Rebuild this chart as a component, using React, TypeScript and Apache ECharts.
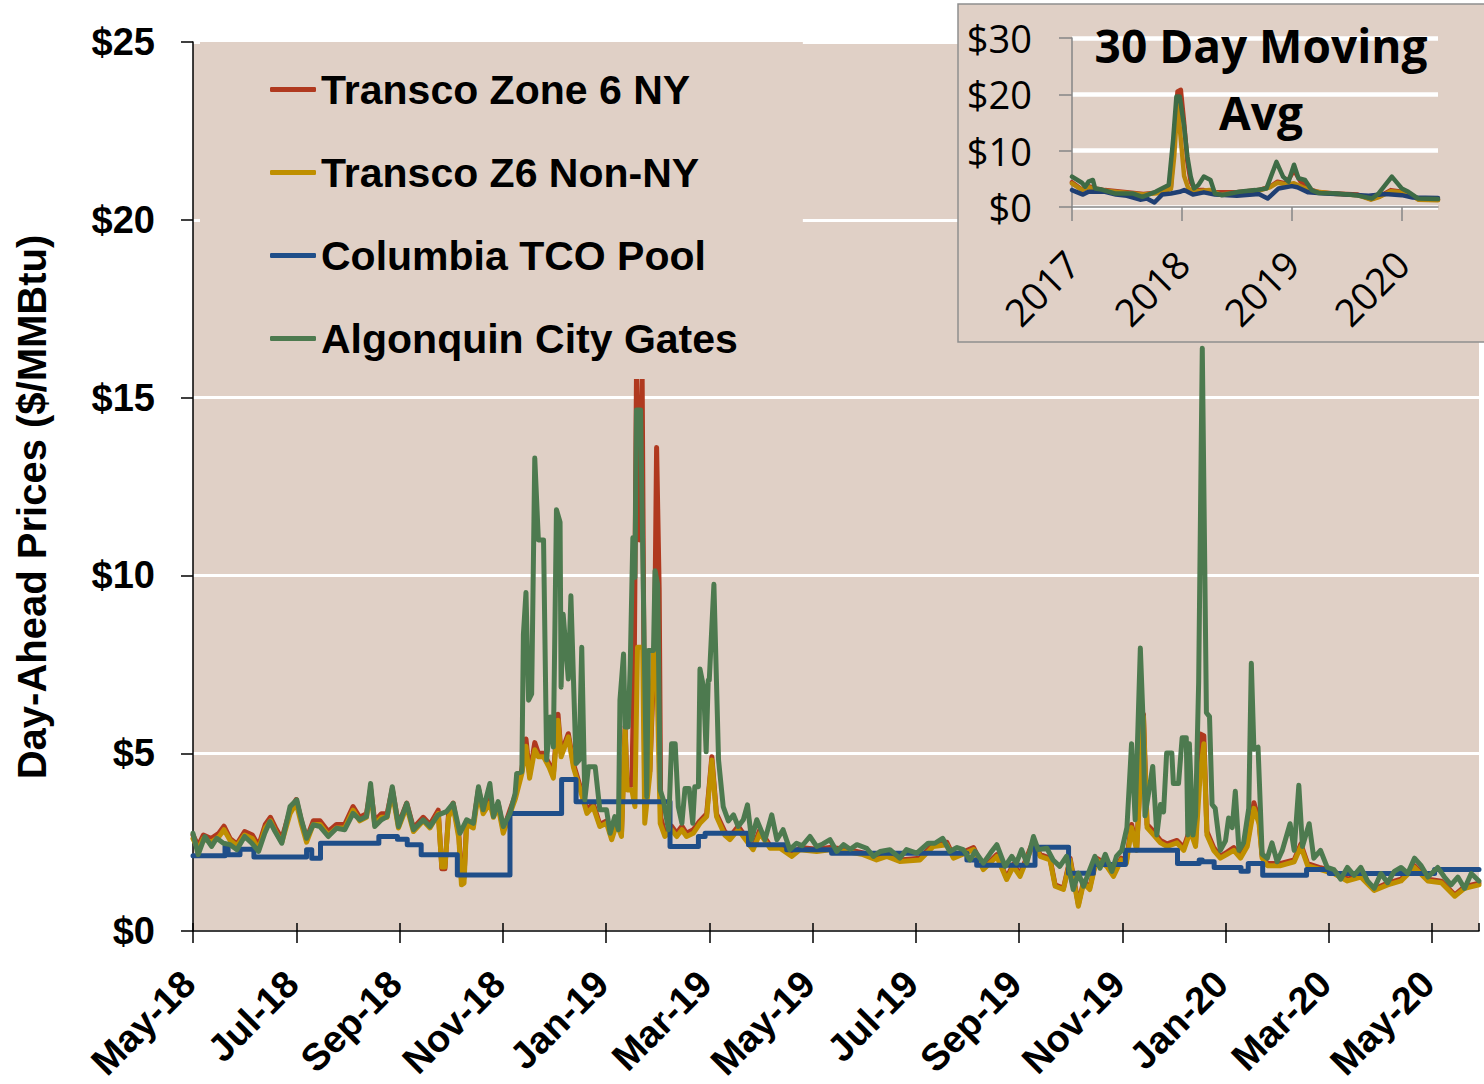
import React, { useEffect, useRef } from 'react';
import * as echarts from 'echarts';

// ---------- DATA ----------
// Main chart x = months since 1 May 2018
const X_TICK_LABELS = ['May-18', 'Jul-18', 'Sep-18', 'Nov-18', 'Jan-19', 'Mar-19', 'May-19', 'Jul-19', 'Sep-19', 'Nov-19', 'Jan-20', 'Mar-20', 'May-20'];
const Y_TICKS = [0, 5, 10, 15, 20, 25];
const SERIES_NAMES = ['Transco Zone 6 NY', 'Transco Z6 Non-NY', 'Columbia TCO Pool', 'Algonquin City Gates'];
const COLORS = ['#B0391F', '#BF8F00', '#1F4E89', '#4D7A4F'];

const transcoNonNY: [number, number][] = [
  [0, 2.6], [0.1, 2.3], [0.2, 2.6], [0.35, 2.5], [0.5, 2.65], [0.6, 2.85], [0.72, 2.55], [0.85, 2.4], [1.0, 2.7], [1.15, 2.6],
  [1.27, 2.3], [1.4, 2.9], [1.5, 3.1], [1.6, 2.8], [1.72, 2.5], [1.88, 3.3], [2.0, 3.6], [2.1, 3.0], [2.2, 2.5], [2.33, 3.0],
  [2.46, 3.0], [2.62, 2.7], [2.78, 2.9], [2.94, 2.9], [3.1, 3.4], [3.23, 3.1], [3.36, 3.2], [3.44, 3.9], [3.52, 3.0], [3.65, 3.2],
  [3.76, 3.2], [3.86, 3.9], [3.98, 2.9], [4.14, 3.5], [4.27, 2.8], [4.46, 3.1], [4.59, 2.9], [4.75, 3.3], [4.82, 1.8], [4.88, 1.8],
  [4.95, 3.2], [5.04, 3.5], [5.15, 2.6], [5.2, 1.3], [5.25, 1.35], [5.3, 3.0], [5.43, 2.9], [5.53, 3.9], [5.62, 3.3], [5.75, 3.6],
  [5.82, 3.2], [5.91, 3.5], [6.01, 2.75], [6.14, 3.3], [6.24, 3.7], [6.37, 4.43], [6.45, 5.2], [6.52, 4.3], [6.62, 5.1], [6.69, 4.9],
  [6.79, 4.9], [6.9, 4.6], [6.98, 4.3], [7.07, 5.93], [7.13, 4.9], [7.27, 5.46], [7.37, 4.6], [7.5, 3.97], [7.63, 3.31], [7.75, 3.5],
  [7.88, 2.94], [8.01, 3.03], [8.11, 2.57], [8.21, 3.03], [8.3, 2.66], [8.37, 5.65], [8.41, 3.97], [8.5, 3.97], [8.56, 3.5], [8.61, 7.98],
  [8.71, 7.98], [8.75, 3.03], [8.85, 4.43], [8.92, 7.89], [8.98, 7.7], [9.05, 3.03], [9.14, 2.66], [9.27, 2.85], [9.37, 2.66], [9.47, 2.85],
  [9.56, 2.66], [9.69, 2.75], [9.82, 3.03], [9.95, 3.22], [10.05, 4.81], [10.14, 3.22], [10.3, 2.7], [10.4, 2.57], [10.56, 2.85], [10.85, 2.29],
  [10.98, 2.75], [11.18, 2.33], [11.37, 2.33], [11.6, 2.1], [11.76, 2.29], [12.08, 2.24], [12.34, 2.29], [12.66, 2.24], [12.98, 2.15], [13.24, 2.0],
  [13.44, 2.1], [13.69, 1.96], [14.08, 2.0], [14.34, 2.38], [14.6, 2.43], [14.73, 2.05], [15.12, 2.29], [15.31, 1.73], [15.57, 2.1], [15.76, 1.45],
  [15.89, 1.82], [16.02, 1.54], [16.28, 2.47], [16.41, 2.1], [16.6, 2.0], [16.7, 1.26], [16.86, 1.17], [16.99, 2.0], [17.15, 0.7], [17.25, 1.35],
  [17.37, 1.17], [17.5, 2.0], [17.7, 1.82], [17.83, 1.54], [17.98, 2.0], [18.08, 1.91], [18.18, 2.91], [18.28, 2.27], [18.41, 6.03], [18.48, 2.91],
  [18.61, 2.7], [18.74, 2.48], [18.87, 2.38], [19.06, 2.48], [19.19, 2.27], [19.32, 2.81], [19.42, 2.38], [19.51, 4.42], [19.58, 5.27], [19.64, 2.7],
  [19.77, 2.27], [19.9, 2.05], [20.03, 2.16], [20.16, 2.27], [20.29, 2.05], [20.42, 2.38], [20.55, 3.45], [20.65, 3.02], [20.71, 2.05], [20.81, 1.84],
  [21.07, 1.84], [21.33, 1.95], [21.46, 2.38], [21.59, 1.84], [21.84, 1.73], [22.1, 1.62], [22.36, 1.41], [22.62, 1.52], [22.88, 1.14], [23.14, 1.3],
  [23.4, 1.41], [23.66, 1.79], [23.92, 1.41], [24.18, 1.36], [24.44, 0.98], [24.63, 1.2], [24.91, 1.3],
];

const transcoNY: [number, number][] = [
  [0, 2.7], [0.1, 2.4], [0.2, 2.7], [0.35, 2.6], [0.5, 2.75], [0.6, 2.95], [0.72, 2.6], [0.85, 2.45], [1.0, 2.8], [1.15, 2.7],
  [1.27, 2.4], [1.4, 3.0], [1.5, 3.2], [1.6, 2.9], [1.72, 2.6], [1.88, 3.4], [2.0, 3.7], [2.1, 3.1], [2.2, 2.6], [2.33, 3.1],
  [2.46, 3.1], [2.62, 2.8], [2.78, 3.0], [2.94, 3.0], [3.1, 3.5], [3.23, 3.2], [3.36, 3.3], [3.44, 4.0], [3.52, 3.1], [3.65, 3.3],
  [3.76, 3.3], [3.86, 4.0], [3.98, 3.0], [4.14, 3.6], [4.27, 2.9], [4.46, 3.2], [4.59, 3.0], [4.75, 3.4], [4.82, 1.75], [4.88, 1.75],
  [4.95, 3.3], [5.04, 3.6], [5.15, 2.7], [5.2, 1.45], [5.25, 1.5], [5.3, 3.1], [5.43, 3.0], [5.53, 4.0], [5.62, 3.4], [5.75, 3.7],
  [5.82, 3.3], [5.91, 3.6], [6.01, 2.85], [6.14, 3.4], [6.24, 3.8], [6.37, 4.55], [6.45, 5.4], [6.52, 4.4], [6.62, 5.3], [6.69, 5.0],
  [6.79, 5.0], [6.9, 4.7], [6.98, 4.4], [7.07, 6.1], [7.13, 5.0], [7.27, 5.55], [7.37, 4.7], [7.5, 4.06], [7.63, 3.4], [7.75, 3.6],
  [7.88, 3.0], [8.01, 3.1], [8.11, 2.65], [8.21, 3.1], [8.3, 2.75], [8.37, 5.75], [8.41, 4.1], [8.5, 4.1], [8.55, 8.0], [8.59, 15.6],
  [8.645, 11.0], [8.7, 15.6], [8.75, 4.0], [8.85, 4.5], [8.94, 8.0], [8.98, 13.6], [9.03, 9.6], [9.06, 3.2], [9.14, 2.75], [9.27, 2.95],
  [9.37, 2.75], [9.47, 2.95], [9.56, 2.75], [9.69, 2.85], [9.82, 3.1], [9.95, 3.3], [10.05, 4.9], [10.14, 3.3], [10.3, 2.8], [10.4, 2.65],
  [10.56, 2.95], [10.85, 2.35], [10.98, 2.85], [11.18, 2.4], [11.37, 2.4], [11.6, 2.15], [11.76, 2.35], [12.08, 2.3], [12.34, 2.35], [12.66, 2.3],
  [12.98, 2.2], [13.24, 2.05], [13.44, 2.15], [13.69, 2.0], [14.08, 2.05], [14.34, 2.45], [14.6, 2.5], [14.73, 2.1], [15.12, 2.35], [15.31, 1.78],
  [15.57, 2.15], [15.76, 1.5], [15.89, 1.88], [16.02, 1.6], [16.28, 2.55], [16.41, 2.15], [16.6, 2.05], [16.7, 1.3], [16.86, 1.2], [16.99, 2.05],
  [17.15, 0.75], [17.25, 1.4], [17.37, 1.22], [17.5, 2.05], [17.7, 1.88], [17.83, 1.6], [17.98, 2.05], [18.08, 1.97], [18.18, 3.0], [18.28, 2.35],
  [18.41, 6.1], [18.48, 3.0], [18.61, 2.8], [18.74, 2.55], [18.87, 2.45], [19.06, 2.55], [19.19, 2.35], [19.32, 2.9], [19.42, 2.45], [19.51, 5.54],
  [19.58, 5.49], [19.64, 2.8], [19.77, 2.35], [19.9, 2.1], [20.03, 2.22], [20.16, 2.35], [20.29, 2.1], [20.42, 2.45], [20.55, 3.61], [20.65, 3.1],
  [20.71, 2.1], [20.81, 1.9], [21.07, 1.9], [21.33, 2.0], [21.46, 2.45], [21.59, 1.9], [21.84, 1.78], [22.1, 1.68], [22.36, 1.46], [22.62, 1.57],
  [22.88, 1.18], [23.14, 1.35], [23.4, 1.46], [23.66, 1.84], [23.92, 1.46], [24.18, 1.4], [24.44, 1.02], [24.63, 1.25], [24.91, 1.35],
];

// Columbia: piece-wise constant, each point = level starting at that month
const columbiaTCO: [number, number][] = [
  [0, 2.12], [0.62, 2.38], [0.68, 2.15], [0.91, 2.3], [1.18, 2.08], [2.2, 2.29], [2.3, 2.05], [2.47, 2.47], [3.6, 2.66], [3.96, 2.58],
  [4.15, 2.43], [4.42, 2.15], [5.12, 1.58], [6.14, 3.31], [7.14, 4.26], [7.42, 3.64], [9.24, 2.38], [9.79, 2.66], [9.92, 2.75], [10.76, 2.43],
  [11.5, 2.29], [12.37, 2.19], [14.99, 2.0], [15.18, 1.85], [16.31, 2.36], [16.96, 1.63], [17.44, 1.87], [18.06, 2.27], [19.07, 1.9], [19.49, 2.0],
  [19.55, 1.95], [19.78, 1.79], [20.3, 1.68], [20.44, 1.9], [20.72, 1.57], [21.57, 1.73], [22.01, 1.62], [24.05, 1.73], [24.91, 1.73],
];

const algonquin: [number, number][] = [
  [0, 2.75], [0.1, 2.15], [0.23, 2.66], [0.36, 2.38], [0.46, 2.61], [0.59, 2.47], [0.72, 2.43], [0.85, 2.29], [1.0, 2.66], [1.14, 2.47],
  [1.27, 2.24], [1.39, 2.75], [1.49, 3.08], [1.59, 2.8], [1.72, 2.47], [1.88, 3.5], [2.01, 3.69], [2.1, 3.13], [2.2, 2.61], [2.33, 2.99],
  [2.46, 2.94], [2.62, 2.66], [2.78, 2.89], [2.94, 2.85], [3.1, 3.31], [3.23, 3.13], [3.36, 3.22], [3.44, 4.15], [3.52, 2.94], [3.65, 3.13],
  [3.76, 3.22], [3.86, 4.06], [3.98, 2.94], [4.14, 3.59], [4.27, 2.85], [4.46, 3.13], [4.59, 2.94], [4.75, 3.27], [4.91, 3.36], [5.04, 3.59],
  [5.17, 2.75], [5.3, 3.13], [5.43, 3.03], [5.53, 4.06], [5.62, 3.41], [5.75, 4.15], [5.82, 3.22], [5.91, 3.64], [6.01, 2.94], [6.14, 3.31],
  [6.24, 3.87], [6.27, 4.43], [6.37, 4.48], [6.4, 8.35], [6.45, 9.52], [6.5, 6.49], [6.56, 6.67], [6.62, 13.3], [6.69, 11.0], [6.79, 11.0],
  [6.85, 4.81], [6.92, 6.02], [6.98, 5.18], [7.04, 11.85], [7.11, 11.5], [7.13, 6.86], [7.17, 8.91], [7.27, 7.09], [7.32, 9.43], [7.42, 4.71],
  [7.48, 4.81], [7.53, 7.98], [7.59, 3.69], [7.66, 4.62], [7.79, 4.62], [7.88, 3.41], [8.01, 3.41], [8.08, 2.75], [8.17, 3.22], [8.24, 2.85],
  [8.27, 6.49], [8.34, 7.79], [8.37, 5.74], [8.43, 5.74], [8.47, 7.51], [8.52, 11.06], [8.56, 9.94], [8.59, 14.65], [8.67, 14.65], [8.74, 7.98],
  [8.79, 3.78], [8.82, 7.89], [8.92, 7.89], [8.95, 10.13], [9.0, 9.75], [9.05, 3.97], [9.11, 3.69], [9.21, 2.85], [9.27, 5.27], [9.34, 5.27],
  [9.4, 3.5], [9.47, 3.03], [9.53, 4.01], [9.61, 4.01], [9.68, 3.03], [9.72, 4.06], [9.79, 4.06], [9.82, 7.37], [9.89, 6.86], [9.94, 5.04],
  [9.98, 7.05], [10.0, 7.05], [10.09, 9.75], [10.18, 4.81], [10.27, 3.5], [10.37, 3.1], [10.47, 3.27], [10.56, 2.94], [10.66, 3.13], [10.74, 3.55],
  [10.82, 2.57], [10.92, 3.13], [11.08, 2.57], [11.21, 3.27], [11.31, 2.57], [11.43, 2.85], [11.56, 2.29], [11.69, 2.47], [11.8, 2.4], [11.95, 2.66],
  [12.08, 2.38], [12.2, 2.45], [12.34, 2.57], [12.47, 2.24], [12.6, 2.43], [12.73, 2.3], [12.86, 2.43], [13.05, 2.33], [13.18, 2.1], [13.31, 2.24],
  [13.5, 2.29], [13.69, 2.05], [13.82, 2.29], [14.02, 2.19], [14.24, 2.47], [14.37, 2.47], [14.52, 2.61], [14.66, 2.24], [14.8, 2.35], [14.92, 2.29],
  [15.05, 2.0], [15.15, 2.24], [15.31, 1.91], [15.45, 2.2], [15.57, 2.43], [15.73, 1.82], [15.86, 2.1], [15.95, 1.91], [16.05, 2.29], [16.15, 1.91],
  [16.28, 2.66], [16.37, 2.29], [16.54, 2.33], [16.66, 2.0], [16.79, 1.82], [16.92, 2.1], [17.05, 1.17], [17.15, 1.63], [17.25, 1.26], [17.37, 1.73],
  [17.47, 2.1], [17.57, 1.77], [17.67, 2.16], [17.8, 1.68], [17.89, 2.11], [17.99, 2.27], [18.09, 2.91], [18.18, 5.27], [18.25, 3.13], [18.35, 7.96],
  [18.4, 6.03], [18.44, 3.24], [18.51, 3.88], [18.59, 4.63], [18.67, 2.7], [18.74, 3.56], [18.8, 3.35], [18.86, 5.01], [18.96, 5.01], [18.99, 4.15],
  [19.09, 4.15], [19.16, 5.44], [19.24, 5.44], [19.27, 2.7], [19.3, 5.27], [19.37, 2.7], [19.42, 3.24], [19.48, 7.0], [19.55, 16.39], [19.63, 6.14],
  [19.69, 6.03], [19.74, 3.56], [19.8, 3.45], [19.9, 2.27], [20.0, 2.54], [20.06, 3.18], [20.13, 2.91], [20.19, 3.93], [20.26, 2.27], [20.35, 2.48],
  [20.45, 3.45], [20.5, 7.53], [20.55, 5.11], [20.63, 5.17], [20.71, 2.16], [20.81, 2.05], [20.9, 2.48], [21.0, 1.95], [21.1, 2.27], [21.25, 3.02],
  [21.33, 2.27], [21.42, 4.1], [21.49, 2.38], [21.62, 3.02], [21.71, 2.05], [21.84, 2.27], [21.97, 1.79], [22.1, 1.73], [22.23, 1.46], [22.36, 1.79],
  [22.49, 1.57], [22.62, 1.79], [22.75, 1.41], [22.88, 1.2], [23.01, 1.62], [23.14, 1.36], [23.27, 1.68], [23.4, 1.79], [23.53, 1.62], [23.66, 2.05],
  [23.79, 1.84], [23.92, 1.52], [24.11, 1.79], [24.24, 1.52], [24.37, 1.3], [24.5, 1.52], [24.63, 1.2], [24.76, 1.62], [24.91, 1.41],
];

// Inset: 30 day moving average, x = year
const INSET_TITLE = ['30 Day Moving', 'Avg'];
const INSET_YEARS = [2017, 2018, 2019, 2020];
const maTranscoNY: [number, number][] = [
  [2017.0, 4.4], [2017.09, 3.1], [2017.15, 3.7], [2017.21, 3.3], [2017.3, 3.0], [2017.5, 2.6], [2017.65, 2.3], [2017.8, 2.6], [2017.9, 3.5], [2017.93, 12],
  [2017.96, 20.5], [2017.99, 20.8], [2018.02, 15], [2018.05, 8], [2018.08, 4.5], [2018.12, 3.0], [2018.2, 3.0], [2018.3, 2.6], [2018.5, 2.6], [2018.7, 3.0],
  [2018.8, 3.6], [2018.87, 4.5], [2018.95, 4.2], [2019.02, 6.5], [2019.08, 4.5], [2019.15, 3.2], [2019.25, 2.6], [2019.4, 2.4], [2019.6, 2.2], [2019.72, 1.4],
  [2019.8, 1.9], [2019.9, 3.0], [2020.0, 2.7], [2020.08, 2.3], [2020.15, 1.4], [2020.33, 1.3],
];
const maTranscoNonNY: [number, number][] = [
  [2017.0, 4.2], [2017.09, 3.0], [2017.15, 3.5], [2017.21, 3.2], [2017.3, 2.9], [2017.5, 2.5], [2017.65, 2.2], [2017.8, 2.5], [2017.9, 3.2], [2017.93, 9],
  [2017.96, 18.5], [2017.99, 12], [2018.02, 5.5], [2018.06, 3.2], [2018.15, 2.8], [2018.25, 3.0], [2018.35, 2.2], [2018.5, 2.5], [2018.7, 2.9], [2018.8, 3.5],
  [2018.87, 4.3], [2018.95, 4.0], [2019.02, 4.2], [2019.1, 3.5], [2019.2, 2.8], [2019.4, 2.3], [2019.6, 2.1], [2019.72, 1.3], [2019.8, 1.8], [2019.9, 2.8],
  [2020.0, 2.6], [2020.08, 2.2], [2020.15, 1.3], [2020.33, 1.2],
];
const maColumbia: [number, number][] = [
  [2017.0, 3.0], [2017.05, 2.6], [2017.1, 2.2], [2017.15, 2.7], [2017.3, 2.7], [2017.4, 2.2], [2017.5, 2.0], [2017.62, 1.3], [2017.68, 1.5], [2017.75, 0.8],
  [2017.82, 2.2], [2017.9, 2.4], [2017.98, 2.7], [2018.02, 3.0], [2018.1, 2.2], [2018.2, 2.6], [2018.3, 2.2], [2018.5, 2.0], [2018.7, 2.3], [2018.78, 1.5],
  [2018.88, 3.3], [2019.0, 3.7], [2019.05, 3.5], [2019.15, 2.6], [2019.3, 2.4], [2019.5, 2.2], [2019.7, 2.0], [2019.85, 2.3], [2020.0, 2.1], [2020.1, 1.7],
  [2020.33, 1.6],
];
const maAlgonquin: [number, number][] = [
  [2017.0, 5.4], [2017.09, 4.3], [2017.12, 3.6], [2017.15, 4.5], [2017.19, 4.8], [2017.21, 3.3], [2017.27, 3.1], [2017.39, 2.4], [2017.55, 2.4], [2017.64, 1.8],
  [2017.76, 2.7], [2017.88, 3.9], [2017.92, 11.9], [2017.95, 19.6], [2017.98, 19.6], [2018.02, 14.3], [2018.05, 8.9], [2018.08, 5.4], [2018.11, 3.3], [2018.15, 3.9],
  [2018.2, 5.4], [2018.26, 4.8], [2018.3, 2.4], [2018.36, 2.1], [2018.52, 2.7], [2018.67, 3.0], [2018.77, 3.3], [2018.86, 8.0], [2018.92, 5.4], [2018.97, 4.5],
  [2019.02, 7.5], [2019.06, 5.1], [2019.12, 4.8], [2019.18, 3.0], [2019.24, 2.5], [2019.42, 2.4], [2019.58, 2.1], [2019.73, 1.5], [2019.79, 2.4], [2019.91, 5.4],
  [2020.0, 3.3], [2020.06, 2.7], [2020.15, 1.5], [2020.33, 1.4],
];

const BG = '#E0D0C6';
const MAIN_FONT = '"Liberation Sans", Arial, sans-serif';
const INSET_FONT = '"Open Sans", "Noto Sans", sans-serif';
const INSET_COLORS = ['#B0391F', '#B8860B', '#1F3F73', '#3E6B45'];

export default function App() {
  const ref = useRef<HTMLDivElement>(null);
  useEffect(() => {
    if (!ref.current) return;
    const chart = echarts.init(ref.current, undefined, { renderer: 'svg' });
    const mainData = [transcoNY, transcoNonNY, columbiaTCO, algonquin];
    const insetData = [maTranscoNY, maTranscoNonNY, maColumbia, maAlgonquin];

    const mainSeries = mainData.map((d, i) => ({
      name: SERIES_NAMES[i],
      type: 'line',
      xAxisIndex: 0,
      yAxisIndex: 0,
      data: d,
      symbol: 'none',
      showSymbol: false,
      step: i === 2 ? 'end' : false,
      lineStyle: { color: COLORS[i], width: 5, cap: 'round', join: 'round' },
      itemStyle: { color: COLORS[i] },
      z: 2 + i,
    }));
    const insetSeries = insetData.map((d, i) => ({
      name: 'MA ' + SERIES_NAMES[i],
      type: 'line',
      xAxisIndex: 2,
      yAxisIndex: 1,
      data: d,
      symbol: 'none',
      showSymbol: false,
      lineStyle: { color: INSET_COLORS[i], width: 4.5, cap: 'round', join: 'round' },
      itemStyle: { color: INSET_COLORS[i] },
      z: 22 + i,
    }));

    chart.setOption({
      animation: false,
      backgroundColor: '#ffffff',
      grid: [
        { left: 193, top: 42, right: 5, bottom: 149, show: true, backgroundColor: BG, borderWidth: 0 },
        { left: 1072, top: 38, width: 366, height: 169, show: false, borderWidth: 0, z: 20 },
      ],
      legend: {
        data: SERIES_NAMES,
        orient: 'vertical',
        left: 200,
        top: 42,
        padding: [27, 65, 20, 70],
        backgroundColor: BG,
        icon: 'roundRect',
        itemWidth: 46,
        itemHeight: 5,
        itemGap: 42,
        textStyle: { fontFamily: MAIN_FONT, fontWeight: 'bold', fontSize: 41, color: '#000', lineHeight: 40 },
        selectedMode: false,
        z: 4,
      },
      xAxis: [
        {
          type: 'value', gridIndex: 0, min: 0, max: 24.91, interval: 2, z: 3,
          axisLine: { show: true, lineStyle: { color: '#000', width: 1.5 } },
          axisTick: { show: true, length: 12, lineStyle: { color: '#000', width: 1.5 } },
          axisLabel: {
            rotate: 45, margin: 42, padding: [0, 6, 0, 0], fontFamily: MAIN_FONT, fontWeight: 'bold', fontSize: 38, color: '#000',
            showMaxLabel: false,
            formatter: (v: number) => X_TICK_LABELS[Math.round(v / 2)] ?? '',
          },
          splitLine: { show: false },
        },
        {
          type: 'value', gridIndex: 0, min: 0, max: 24.91, interval: 2, position: 'bottom', z: 3,
          axisLine: { show: false },
          axisTick: { show: true, inside: true, length: 8, lineStyle: { color: '#000', width: 1.5 } },
          axisLabel: { show: false },
          splitLine: { show: false },
        },
        {
          type: 'value', gridIndex: 1, min: INSET_YEARS[0], max: 2020.33, interval: 1, z: 21,
          axisLine: { show: true, lineStyle: { color: '#868686', width: 1.5 } },
          axisTick: { show: true, length: 14, lineStyle: { color: '#868686', width: 1.5 } },
          axisLabel: {
            rotate: 45, margin: 50, fontFamily: INSET_FONT, fontSize: 38, color: '#000',
            showMaxLabel: false,
            formatter: (v: number) => (INSET_YEARS.includes(Math.round(v)) ? String(Math.round(v)) : ''),
          },
          splitLine: { show: false },
        },
      ],
      yAxis: [
        {
          type: 'value', gridIndex: 0, min: Y_TICKS[0], max: Y_TICKS[Y_TICKS.length - 1], interval: 5, z: 1,
          axisLine: { show: true, lineStyle: { color: '#000', width: 1.5 } },
          axisTick: { show: true, length: 12, lineStyle: { color: '#000', width: 1.5 } },
          axisLabel: { margin: 38, fontFamily: MAIN_FONT, fontWeight: 'bold', fontSize: 38, color: '#000', formatter: (v: number) => '$' + v },
          splitLine: { show: true, lineStyle: { color: '#ffffff', width: 3 } },
        },
        {
          type: 'value', gridIndex: 1, min: 0, max: 30, interval: 10, z: 20,
          axisLine: { show: true, lineStyle: { color: '#868686', width: 1.5 } },
          axisTick: { show: true, length: 13, lineStyle: { color: '#868686', width: 1.5 } },
          axisLabel: { margin: 40, fontFamily: INSET_FONT, fontSize: 38, color: '#000', formatter: (v: number) => '$' + v },
          splitLine: { show: true, lineStyle: { color: '#ffffff', width: 4.5 } },
        },
      ],
      graphic: [
        {
          type: 'rect', z: 10,
          shape: { x: 958, y: 4, width: 540, height: 338 },
          style: { fill: BG, stroke: '#8E8E8E', lineWidth: 1.5 },
        },
        {
          type: 'text', z: 30, x: 1261, y: 45,
          style: { text: INSET_TITLE[0], font: 'bold 46px ' + INSET_FONT, fill: '#000', textAlign: 'center', textVerticalAlign: 'middle', align: 'center', verticalAlign: 'middle' },
        },
        {
          type: 'text', z: 30, x: 1261, y: 112,
          style: { text: INSET_TITLE[1], font: 'bold 46px ' + INSET_FONT, fill: '#000', textAlign: 'center', textVerticalAlign: 'middle', align: 'center', verticalAlign: 'middle' },
        },
        {
          type: 'text', z: 5, x: 32, y: 507, rotation: Math.PI / 2,
          style: { text: 'Day-Ahead Prices ($/MMBtu)', font: 'bold 40px ' + MAIN_FONT, fill: '#000', textAlign: 'center', textVerticalAlign: 'middle', align: 'center', verticalAlign: 'middle' },
        },
      ],
      series: [...mainSeries, ...insetSeries],
    });
    return () => chart.dispose();
  }, []);
  return <div ref={ref} style={{ position: 'absolute', left: 0, top: 0, width: 1484, height: 1084 }} />;
}
